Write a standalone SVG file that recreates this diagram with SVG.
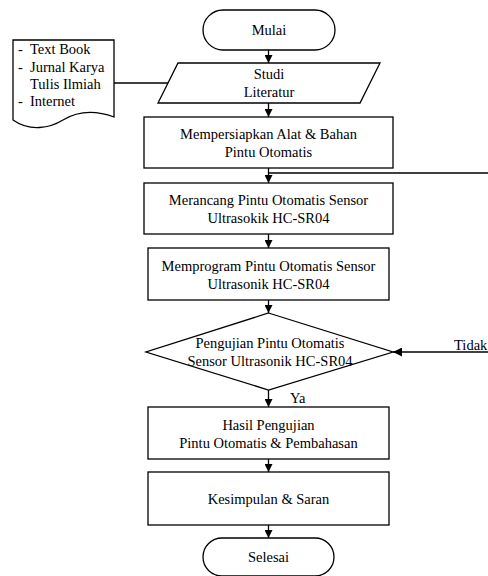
<svg xmlns="http://www.w3.org/2000/svg" width="488" height="576" viewBox="0 0 488 576">
<defs>
<marker id="ah" viewBox="0 0 10 10" refX="10" refY="5" markerWidth="8" markerHeight="8" markerUnits="userSpaceOnUse" orient="auto">
<path d="M0,0 L10,5 L0,10 z" fill="#000"/>
</marker>
<marker id="ahb" viewBox="0 0 10 10" refX="10" refY="5" markerWidth="11" markerHeight="9" markerUnits="userSpaceOnUse" orient="auto">
<path d="M0,0 L10,5 L0,10 z" fill="#000"/>
</marker>
</defs>
<style>
.s{fill:#fff;stroke:#000;stroke-width:1.3}
.t{font-family:"Liberation Serif","Times New Roman",serif;font-size:14.5px;fill:#000}
.c{text-anchor:middle}
.l{fill:none;stroke:#000;stroke-width:1.3}
</style>
<rect width="488" height="576" fill="#fff"/>
<g id="connectors">
<line class="l" x1="268.5" y1="50" x2="268.5" y2="63" marker-end="url(#ah)"/>
<line class="l" x1="114" y1="83" x2="168" y2="83"/>
<line class="l" x1="268.5" y1="103" x2="268.5" y2="117" marker-end="url(#ah)"/>
<line class="l" x1="268.5" y1="168" x2="268.5" y2="183" marker-end="url(#ah)"/>
<line class="l" x1="268.5" y1="173" x2="488" y2="173"/>
<line class="l" x1="268.5" y1="234" x2="268.5" y2="248" marker-end="url(#ah)"/>
<line class="l" x1="268.5" y1="300" x2="268.5" y2="313" marker-end="url(#ah)"/>
<line class="l" x1="488" y1="352" x2="393" y2="352" marker-end="url(#ahb)"/>
<line class="l" x1="268.5" y1="390" x2="268.5" y2="407" marker-end="url(#ah)"/>
<line class="l" x1="268.5" y1="459" x2="268.5" y2="472" marker-end="url(#ah)"/>
<line class="l" x1="268.5" y1="525" x2="268.5" y2="538" marker-end="url(#ah)"/>
<text class="t" x="454" y="350">Tidak</text>
<text class="t" x="290" y="403">Ya</text>
</g>
<g id="mulai">
<rect class="s" x="203" y="10" width="132" height="40" rx="20" ry="20"/>
<text class="t c" x="269" y="35">Mulai</text>
</g>
<g id="referensi">
<path class="s" d="M13,40 H114 V117 C95,110 78,111 63,120 C50,128 30,132 13,120 Z"/>
<text class="t" x="18" y="54">-</text><text class="t" x="30" y="54">Text Book</text>
<text class="t" x="18" y="72">-</text><text class="t" x="30" y="72">Jurnal Karya</text>
<text class="t" x="30" y="89">Tulis Ilmiah</text>
<text class="t" x="18" y="106">-</text><text class="t" x="30" y="106">Internet</text>
</g>
<g id="studi">
<polygon class="s" points="178,63 380,63 360,103 158,103"/>
<text class="t c" x="269" y="79">Studi</text>
<text class="t c" x="269" y="97">Literatur</text>
</g>
<g id="persiapan">
<rect class="s" x="144" y="117" width="249" height="51"/>
<text class="t c" x="268.5" y="139">Mempersiapkan Alat &amp; Bahan</text>
<text class="t c" x="268.5" y="157">Pintu Otomatis</text>
</g>
<g id="merancang">
<rect class="s" x="144" y="183" width="249" height="51"/>
<text class="t c" x="268.5" y="205">Merancang Pintu Otomatis Sensor</text>
<text class="t c" x="268.5" y="223">Ultrasokik HC-SR04</text>
</g>
<g id="memprogram">
<rect class="s" x="148" y="248" width="241" height="52"/>
<text class="t c" x="268.5" y="271">Memprogram Pintu Otomatis Sensor</text>
<text class="t c" x="268.5" y="289">Ultrasonik HC-SR04</text>
</g>
<g id="pengujian">
<polygon class="s" points="268.5,313 393,352 268.5,390 146,352"/>
<text class="t c" x="270" y="348">Pengujian Pintu Otomatis</text>
<text class="t c" x="270" y="366">Sensor Ultrasonik HC-SR04</text>
</g>
<g id="hasil">
<rect class="s" x="148" y="407" width="241" height="52"/>
<text class="t c" x="268.5" y="430">Hasil Pengujian</text>
<text class="t c" x="268.5" y="448">Pintu Otomatis &amp; Pembahasan</text>
</g>
<g id="kesimpulan">
<rect class="s" x="148" y="472" width="241" height="53"/>
<text class="t c" x="268.5" y="504">Kesimpulan &amp; Saran</text>
</g>
<g id="selesai">
<rect class="s" x="203" y="538" width="131" height="38" rx="19" ry="19"/>
<text class="t c" x="268.5" y="562">Selesai</text>
</g>
</svg>
